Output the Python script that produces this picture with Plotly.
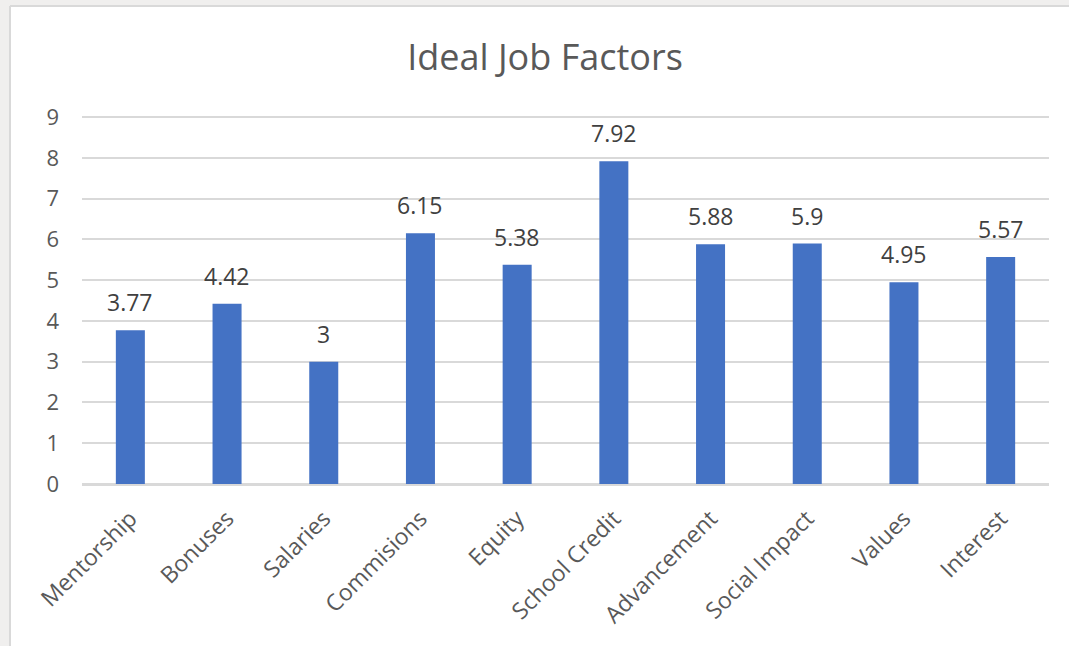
import plotly.graph_objects as go

categories = ["Mentorship", "Bonuses", "Salaries", "Commisions", "Equity",
              "School Credit", "Advancement", "Social Impact", "Values", "Interest"]
values = [3.77, 4.42, 3, 6.15, 5.38, 7.92, 5.88, 5.9, 4.95, 5.57]
labels = ["3.77", "4.42", "3", "6.15", "5.38", "7.92", "5.88", "5.9", "4.95", "5.57"]
y_ticks = list(range(0, 10))

W, H = 1069, 646
L, R, T, B = 82, 20, 116, 162
PW, PH = W - L - R, H - T - B
Y_MAX = 9.03

def px_x(px):
    return (px - L) / PW

def px_y(py):
    return (H - B - py) / PH

FONT = "Open Sans, Noto Sans, sans-serif"

fig = go.Figure()
fig.add_trace(go.Bar(x=categories, y=values, marker=dict(color="#4472C4", line=dict(width=0)),
                     hoverinfo="skip"))

annotations = []
for c, v, t in zip(categories, values, labels):
    annotations.append(dict(x=c, y=v, xref="x", yref="y", text=t, showarrow=False,
                            yanchor="middle", yshift=28,
                            font=dict(family=FONT, size=23, color="#404040")))

shapes = [
    dict(type="rect", xref="paper", yref="paper", x0=px_x(0), x1=px_x(10), y0=px_y(H), y1=px_y(0),
         fillcolor="#f0efee", line=dict(width=0), layer="below"),
    dict(type="rect", xref="paper", yref="paper", x0=px_x(0), x1=px_x(W), y0=px_y(6), y1=px_y(0),
         fillcolor="#f0efee", line=dict(width=0), layer="below"),
    dict(type="line", xref="paper", yref="paper", x0=px_x(10), x1=px_x(10), y0=px_y(H), y1=px_y(6),
         line=dict(color="#d9d9d9", width=2), layer="below"),
    dict(type="line", xref="paper", yref="paper", x0=px_x(10), x1=px_x(W), y0=px_y(6), y1=px_y(6),
         line=dict(color="#d9d9d9", width=2), layer="below"),
]

fig.update_layout(
    width=W, height=H,
    margin=dict(l=L, r=R, t=T, b=B, autoexpand=False),
    paper_bgcolor="white", plot_bgcolor="white",
    bargap=0.7,
    showlegend=False,
    title=dict(text="Ideal Job Factors", x=545 / W, xanchor="center", y=1 - 57 / H,
               yanchor="middle", xref="container", yref="container",
               font=dict(family=FONT, size=36, color="#595959")),
    xaxis=dict(tickangle=-45, tickfont=dict(family=FONT, size=23, color="#595959"),
               showgrid=False, showline=True, linecolor="#d9d9d9", linewidth=2,
               ticks="", ticklabelstandoff=10),
    yaxis=dict(range=[0, Y_MAX], tickvals=y_ticks, tickfont=dict(family=FONT, size=22, color="#595959"),
               showgrid=True, gridcolor="#d9d9d9", gridwidth=2, zeroline=True,
               zerolinecolor="#d9d9d9", zerolinewidth=2, showline=False, ticks="",
               ticklabelstandoff=22),
    annotations=annotations,
    shapes=shapes,
)

fig.write_html("out.html")
